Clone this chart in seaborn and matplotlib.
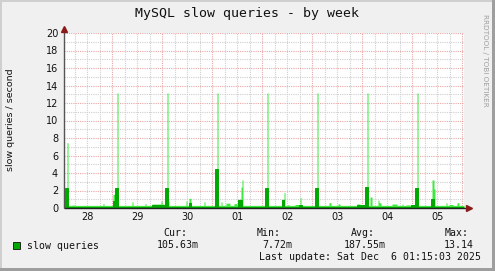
import numpy as np
import matplotlib
matplotlib.use("Agg")
import matplotlib.pyplot as plt
import matplotlib.transforms as mtrans
from matplotlib.patches import Rectangle
import seaborn as sns

# ---------------- data ----------------
day_labels = ["28", "29", "30", "01", "02", "03", "04", "05"]
X0 = 0.034          # window start, days after Nov 28 00:00 (Nov 28 01:15)
STEP = 0.02         # one rrd sample (28.8 min) in days
N = 400             # samples in the week window

base_avg = 0.12     # typical average level
base_max = 0.30     # typical max level

# daily peaks (~02:30 each night)
spike_day = [0.104, 1.104, 2.104, 3.104, 4.104, 5.104, 6.104, 7.104]
spike_max = [7.46, 13.14, 13.14, 13.14, 13.14, 13.14, 13.14, 13.14]
spike_avg = [2.25, 2.25, 2.25, 4.46, 2.25, 2.25, 2.40, 2.28]

# smaller bumps: start day, length (samples), max value, avg value (0 = base)
bump_day = [0.204, 0.324, 0.564, 0.824, 1.024, 1.404, 1.664, 1.804, 1.984,
            2.124, 2.484, 2.544, 2.844, 3.184, 3.284, 3.444, 3.524, 3.584,
            3.604, 4.244, 4.324, 4.404, 4.444, 4.524, 4.664, 4.744, 4.764,
            5.344, 5.524, 5.904, 5.984, 6.164, 6.324, 6.344, 6.604, 6.804,
            6.884, 6.984, 7.384, 7.404, 7.444, 7.684, 7.744, 7.904]
bump_len = [2, 1, 1, 1, 2, 1, 1, 12, 1,
            1, 1, 2, 1, 1, 4, 3, 3, 1,
            1, 1, 1, 2, 1, 1, 4, 3, 1,
            2, 2, 3, 4, 2, 1, 2, 5, 1,
            4, 4, 1, 2, 1, 1, 4, 2]
bump_max = [0.34, 0.25, 0.30, 0.50, 1.56, 0.70, 0.50, 0.45, 0.80,
            0.80, 0.80, 1.10, 0.70, 0.70, 0.55, 0.50, 1.00, 2.40,
            3.20, 0.25, 0.30, 1.00, 1.75, 0.40, 0.40, 0.40, 1.18,
            0.61, 0.46, 0.46, 0.35, 1.25, 0.90, 0.60, 0.45, 0.45,
            0.35, 0.35, 1.05, 3.20, 2.17, 0.60, 0.40, 0.60]
bump_avg = [0, 0, 0, 0, 0.80, 0, 0, 0.35, 0,
            0, 0, 0.60, 0, 0, 0, 0, 0.90, 0.90,
            0, 0, 0, 0.90, 0, 0, 0, 0.30, 0,
            0, 0, 0.30, 0.30, 0, 0, 0, 0, 0,
            0, 0.30, 1.03, 1.03, 0, 0, 0, 0]

legend_name = "slow queries"
stat_heads = ["Cur:", "Min:", "Avg:", "Max:"]
stat_vals = ["105.63m", "7.72m", "187.55m", "13.14"]
last_update = "Last update: Sat Dec  6 01:15:03 2025"

# ---------------- build the series ----------------
t = X0 + STEP * np.arange(N)
maxv = np.full(N, base_max)
avgv = np.full(N, base_avg)


def idx(d):
    return int(np.floor((d - X0) / STEP + 1e-9))


for d, mx, av in zip(spike_day, spike_max, spike_avg):
    i = idx(d)
    maxv[i] = max(maxv[i], mx)
    avgv[i - 2:i + 1] = np.maximum(avgv[i - 2:i + 1], av)
    maxv[i - 2:i + 1] = np.maximum(maxv[i - 2:i + 1], av)

for d, n, mx, av in zip(bump_day, bump_len, bump_max, bump_avg):
    i = idx(d)
    maxv[i:i + n] = np.maximum(maxv[i:i + n], mx)
    avgv[i:i + n] = np.maximum(avgv[i:i + n], av)

te = np.append(t, X0 + N * STEP)
mx_e = np.append(maxv, maxv[-1])
av_e = np.append(avgv, avgv[-1])

# ---------------- figure ----------------
W, H = 495, 271
sns.set_style("white")
plt.rcParams["font.family"] = ["DejaVu Sans"]

BG = "#f0f0f0"
BRIGHT = "#3ee83e"
DARK = "#00a800"
RED = "#e8a8a8"
GRAY = "#cfcfcf"
ARROW = "#8b1a1a"
MONO = "DejaVu Sans Mono"


def fx(x):
    return x / W


def fy(y):
    return 1 - y / H


fig = plt.figure(figsize=(W / 100, H / 100), dpi=100, facecolor=BG)
ax = fig.add_axes([fx(64), fy(208), 400 / W, 175 / H])
ax.set_facecolor("white")

ax.fill_between(te, 0, mx_e, step="post", color=BRIGHT, lw=0, zorder=3)
ax.fill_between(te, 0, av_e, step="post", color=DARK, lw=0, zorder=4)
sns.lineplot(x=te, y=av_e, drawstyle="steps-post", color=DARK, lw=0.7,
             ax=ax, zorder=5)

ax.set_xlim(X0, X0 + N * STEP)
ax.set_ylim(0, 20)
ax.set_xticks(np.arange(1, 9))
ax.set_xticks(np.arange(0.25, 8.01, 0.25), minor=True)
ax.set_xticklabels([])
ax.set_yticks(np.arange(0, 21, 2))
ax.set_yticks(np.arange(1, 20, 2), minor=True)
ax.set_axisbelow(True)
ax.grid(which="major", color=RED, ls=(0, (1, 1)), lw=0.8)
ax.grid(which="minor", color=GRAY, ls=(0, (1, 1)), lw=0.8)
for s in ax.spines.values():
    s.set_visible(False)
ax.tick_params(axis="y", which="major", length=2, width=0.6, color="#555555",
               pad=2.2, labelsize=7, labelcolor="#111111")
ax.tick_params(axis="x", which="major", length=2, width=0.6, color="#555555")
ax.tick_params(which="minor", length=0)
ax.set_xlabel("")
ax.set_ylabel("")

blend = mtrans.blended_transform_factory(ax.transData, ax.transAxes)
for k, lab in enumerate(day_labels):
    ax.text(k + 0.5, -0.052, lab, transform=blend, ha="center", va="center",
            fontsize=7, color="#111111")

# axis lines with arrows
ax.plot([0, 1.008], [0, 0], transform=ax.transAxes, color="#222222", lw=1.0,
        clip_on=False, zorder=6, solid_capstyle="butt")
ax.plot([1.0125], [0], transform=ax.transAxes, marker=">", ms=4.2,
        color=ARROW, clip_on=False, zorder=7)
ax.plot([0, 0], [0, 1.017], transform=ax.transAxes, color="#555555", lw=1.0,
        clip_on=False, zorder=6, solid_capstyle="butt")
ax.plot([0], [1.025], transform=ax.transAxes, marker="^", ms=4.2,
        color=ARROW, clip_on=False, zorder=7)

# texts
fig.text(fx(247), fy(14), "MySQL slow queries - by week", family=MONO,
         fontsize=9.5, ha="center", va="center", color="#111111")
fig.text(fx(11), fy(120), "slow queries / second", rotation=90, fontsize=6.8,
         ha="center", va="center", color="#111111")
fig.text(fx(485), fy(14), "RRDTOOL / TOBI OETIKER", rotation=270,
         fontsize=5.2, ha="center", va="top", color="#a0a0a0")

# legend
fig.patches.append(Rectangle((fx(13), fy(249)), 7 / W, 7 / H,
                             transform=fig.transFigure, facecolor=DARK,
                             edgecolor="#111111", lw=0.6))
fig.text(fx(27), fy(246), legend_name, family=MONO, fontsize=7.1,
         ha="left", va="center", color="#111111")
head_x = [163, 257, 351, 445]
val_x = [199, 292, 386, 474]
for hx, hd in zip(head_x, stat_heads):
    fig.text(fx(hx), fy(233.5), hd, family=MONO, fontsize=7.1, ha="left",
             va="center", color="#111111")
for vx, vv in zip(val_x, stat_vals):
    fig.text(fx(vx), fy(245.5), vv, family=MONO, fontsize=7.1, ha="right",
             va="center", color="#111111")
fig.text(fx(481), fy(257.5), last_update, family=MONO, fontsize=7.1,
         ha="right", va="center", color="#111111")

# 3d border
fig.patches.append(Rectangle((0, fy(2)), 1, 2 / H, transform=fig.transFigure,
                             facecolor="#cfcfcf", lw=0))
fig.patches.append(Rectangle((0, 0), 2 / W, 1, transform=fig.transFigure,
                             facecolor="#cfcfcf", lw=0))
fig.patches.append(Rectangle((fx(492), 0), 3 / W, 1, transform=fig.transFigure,
                             facecolor="#9e9e9e", lw=0))
fig.patches.append(Rectangle((0, 0), 1, 3 / H, transform=fig.transFigure,
                             facecolor="#9e9e9e", lw=0))

fig.savefig("out.png", dpi=100, facecolor=BG)
